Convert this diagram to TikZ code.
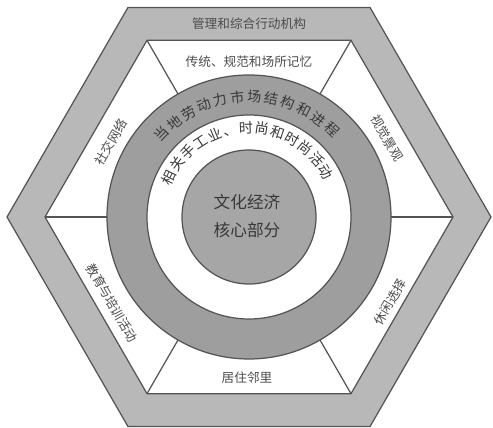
\documentclass[tikz,border=0pt]{standalone}
\usepackage{fontspec}
\newfontfamily\cjk{Noto Sans CJK SC}
\usepackage{tikz}
\usetikzlibrary{decorations.text}
\definecolor{band}{gray}{0.72}
\definecolor{ring}{gray}{0.62}
\definecolor{core}{gray}{0.65}
\definecolor{rim}{gray}{0.33}
\definecolor{ink}{gray}{0.30}
\definecolor{darkink}{gray}{0.22}

\begin{document}
\begin{tikzpicture}[x=0.02cm, y=0.02cm,
    label/.style={font=\cjk\fontsize{7.2}{8}\selectfont, text=ink, inner sep=0pt},
    rim/.style={draw=rim, line width=0.7pt}]

  \useasboundingbox (-249, -211) rectangle (244, 217);
  \coordinate (c) at (0, 0);

  % hexagon band
  \filldraw[rim, fill=band] (0:242) -- (60:242) -- (120:242) -- (180:242) -- (240:242) -- (300:242) -- cycle;
  \filldraw[rim, fill=white] (0:204) -- (60:204) -- (120:204) -- (180:204) -- (240:204) -- (300:204) -- cycle;

  \foreach \a in {0, 60, ..., 300} {
    \draw[rim] (\a:204) -- (\a:142);
  }

  % rings
  \filldraw[rim, fill=ring] (c) circle (142);
  \filldraw[rim, fill=white] (c) circle (102);
  \filldraw[rim, fill=core] (c) circle (67);

  \node[label] (gov) at (0, 193) {管理和综合行动机构};
  \node[label] (trad) at (0, 155) {传统、规范和场所记忆};
  \node[label, rotate=-60] (view) at (138, 79) {视觉景观};
  \node[label, rotate=60] (leisure) at (141, -85) {休闲选择};
  \node[label] (home) at (-2, -161) {居住邻里};
  \node[label, rotate=-60] (edu) at (-137, -86) {教育与培训活动};
  \node[label, rotate=60] (social) at (-138, 75) {社交网络};

  \node[font=\cjk\fontsize{9.5}{16}\selectfont, text=darkink, align=center, inner sep=0pt] (culture) at (-2, 1) {文化经济\\核心部分};

  \path[decorate, decoration={text along path, text align={fit to path},
      text={|\cjk\fontsize{8}{8}\selectfont\color{darkink}|当地劳动力市场结构和进程}}]
    (140:115) arc[start angle=140, end angle=43, radius=115];
  \path[decorate, decoration={text along path, text align={fit to path},
      text={|\cjk\fontsize{8}{8}\selectfont\color{darkink}|相关手工业、时尚和时尚活动}}]
    (158.5:84) arc[start angle=158.5, end angle=25.5, radius=84];

\end{tikzpicture}
\end{document}
